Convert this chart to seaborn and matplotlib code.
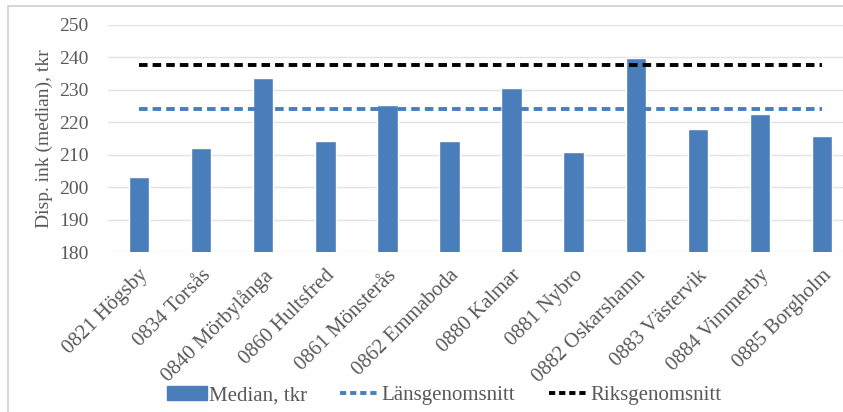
import pandas as pd
import matplotlib.pyplot as plt
import matplotlib.patches as mpatches
from matplotlib.lines import Line2D
import seaborn as sns

# ── Data ──────────────────────────────────────────────────────────────────
kommuner = ["0821 Högsby", "0834 Torsås", "0840 Mörbylånga", "0860 Hultsfred",
            "0861 Mönsterås", "0862 Emmaboda", "0880 Kalmar", "0881 Nybro",
            "0882 Oskarshamn", "0883 Västervik", "0884 Vimmerby", "0885 Borgholm"]
median_tkr = [203.1, 212.2, 233.7, 214.3, 225.4, 214.1, 230.5, 210.8,
              239.8, 218.0, 222.5, 215.8]
lans_snitt = 224.0
riks_snitt = 237.7

BLUE = "#4A7EBB"
GREY_TXT = "#595959"
SERIF = ["Liberation Serif", "DejaVu Serif"]

sns.set_theme(style="white")
plt.rcParams["font.family"] = SERIF

df = pd.DataFrame({"Kommun": kommuner, "Median": median_tkr})

fig = plt.figure(figsize=(8.43, 4.12), dpi=100)
ax = fig.add_axes([0.128, 0.388, 0.884, 0.552])

# outer chart border
fig.patches.append(mpatches.Rectangle((0.0095, -0.05), 1.2, 1.036, transform=fig.transFigure,
                                      fill=False, edgecolor="#D0D0D0", linewidth=1.2))

sns.barplot(data=df, x="Kommun", y="Median", color=BLUE, width=0.33,
            saturation=1, ax=ax, zorder=3)

xs = list(range(len(kommuner)))
ax.plot(xs, [lans_snitt] * len(xs), color=BLUE, lw=2.8, dashes=(2.2, 1.3), zorder=4)
ax.plot(xs, [riks_snitt] * len(xs), color="black", lw=2.8, dashes=(2.2, 1.3), zorder=4)

ax.set_ylim(180, 250)
ax.set_xlim(-0.5, len(kommuner) - 0.5)
ax.set_yticks(range(180, 251, 10))
ax.grid(axis="y", color="#E3E3E3", linewidth=1.0, zorder=0)
ax.set_axisbelow(True)
for s in ax.spines.values():
    s.set_visible(False)
ax.tick_params(axis="both", length=0, labelsize=14, labelcolor=GREY_TXT)
ax.tick_params(axis="y", pad=14)
ax.tick_params(axis="x", pad=10, labelsize=15)
plt.setp(ax.get_xticklabels(), rotation=45, ha="right", rotation_mode="anchor")
ax.set_xlabel("")
ax.set_ylabel("Disp. ink (median), tkr", fontsize=14, color=GREY_TXT, labelpad=4)

handles = [mpatches.Patch(color=BLUE, label="Median, tkr"),
           Line2D([0], [0], color=BLUE, lw=2.8, dashes=(1.6, 1.0), label="Länsgenomsnitt"),
           Line2D([0], [0], color="black", lw=2.8, dashes=(1.6, 1.0), label="Riksgenomsnitt")]
leg = fig.legend(handles=handles, loc="center", bbox_to_anchor=(0.527, 0.04), ncol=3,
                 frameon=False, prop={"family": SERIF, "size": 15}, handlelength=1.9,
                 handletextpad=0.1, columnspacing=1.6)
for t in leg.get_texts():
    t.set_color(GREY_TXT)
    t.set_family(SERIF)

plt.savefig("out.png", dpi=100)
